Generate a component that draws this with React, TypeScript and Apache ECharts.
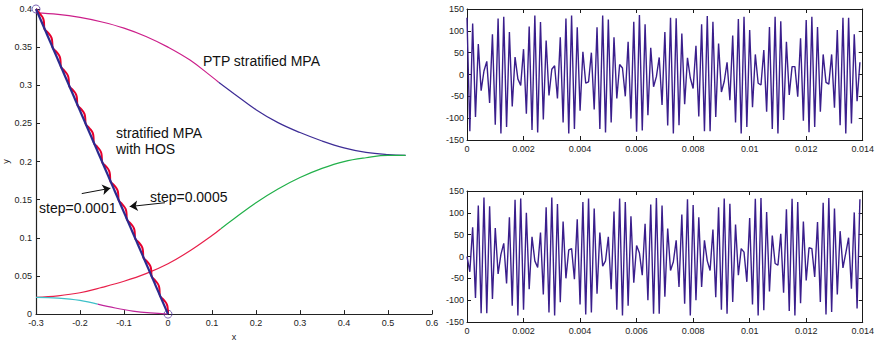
import React, { useEffect, useRef } from "react";
import * as echarts from "echarts";

// ---------- left panel data (x, y) ----------
const straightPath: number[][] = [[-0.3, 0.4], [0, 0]];
const wavyPath: number[][] = [
  [-0.3, 0.4], [-0.2915, 0.394], [-0.2836, 0.3875], [-0.2817, 0.381],
  [-0.2813, 0.375], [-0.2728, 0.369], [-0.2649, 0.3625], [-0.263, 0.356],
  [-0.2625, 0.35], [-0.254, 0.344], [-0.2461, 0.3375], [-0.2442, 0.331],
  [-0.2438, 0.325], [-0.2353, 0.319], [-0.2274, 0.3125], [-0.2255, 0.306],
  [-0.225, 0.3], [-0.2165, 0.294], [-0.2086, 0.2875], [-0.2067, 0.281],
  [-0.2063, 0.275], [-0.1978, 0.269], [-0.1899, 0.2625], [-0.188, 0.256],
  [-0.1875, 0.25], [-0.179, 0.244], [-0.1711, 0.2375], [-0.1692, 0.231],
  [-0.1688, 0.225], [-0.1603, 0.219], [-0.1524, 0.2125], [-0.1505, 0.206],
  [-0.15, 0.2], [-0.1415, 0.194], [-0.1336, 0.1875], [-0.1317, 0.181],
  [-0.1313, 0.175], [-0.1228, 0.169], [-0.1149, 0.1625], [-0.113, 0.156],
  [-0.1125, 0.15], [-0.104, 0.144], [-0.0961, 0.1375], [-0.0942, 0.131],
  [-0.0938, 0.125], [-0.0853, 0.119], [-0.0774, 0.1125], [-0.0755, 0.106],
  [-0.075, 0.1], [-0.0665, 0.094], [-0.0586, 0.0875], [-0.0567, 0.081],
  [-0.0563, 0.075], [-0.0478, 0.069], [-0.0399, 0.0625], [-0.038, 0.056],
  [-0.0375, 0.05], [-0.029, 0.044], [-0.0211, 0.0375], [-0.0192, 0.031],
  [-0.0188, 0.025], [-0.0103, 0.019], [-0.0024, 0.0125], [-0.0005, 0.006],
  [0, 0],
];
const ptpMagenta: number[][] = [
  [-0.3, 0.395], [-0.25, 0.393], [-0.2, 0.389], [-0.15, 0.383], [-0.1, 0.375],
  [-0.05, 0.364], [0, 0.35], [0.05, 0.333], [0.1, 0.311], [0.115, 0.304],
];
const ptpPurple: number[][] = [
  [0.115, 0.304], [0.15, 0.289], [0.2, 0.268], [0.25, 0.251], [0.3, 0.238],
  [0.35, 0.227], [0.4, 0.218], [0.45, 0.212], [0.5, 0.209], [0.54, 0.208],
];
const risingRed: number[][] = [
  [-0.3, 0.022], [-0.25, 0.024], [-0.2, 0.028], [-0.15, 0.035], [-0.1, 0.043],
  [-0.05, 0.053], [0, 0.066], [0.05, 0.083], [0.1, 0.103], [0.12, 0.112],
];
const risingGreen: number[][] = [
  [0.12, 0.112], [0.15, 0.125], [0.2, 0.146], [0.25, 0.164], [0.3, 0.179],
  [0.35, 0.191], [0.4, 0.2], [0.45, 0.205], [0.5, 0.208], [0.54, 0.208],
];
const lowCyan: number[][] = [
  [-0.3, 0.022], [-0.25, 0.021], [-0.2, 0.018], [-0.16, 0.013],
];
const lowMagenta: number[][] = [
  [-0.16, 0.013], [-0.12, 0.008], [-0.08, 0.004], [-0.04, 0.0015], [0, 0],
];
const endPoints: number[][] = [[-0.3, 0.4], [0, 0]];
const arrowSmallStep: number[][] = [[-0.196, 0.158], [-0.131, 0.165]];
const arrowLargeStep: number[][] = [[-0.007, 0.146], [-0.087, 0.141]];

// ---------- right panels: samples every 0.0001 s ----------
const sampleStep = 0.0001;
const topSignal: number[] = [
  130, -130, 117, -97, 70, -37, 8,
  30, -65, 92, -115, 128, -135, 132, -120, 97, -73, 40, -10,
  -25, 58, -90, 110, -127, 135, -133, 120, -103, 78, -48, 12,
  20, -55, 85, -110, 128, -135, 135, -125, 108, -83, 52, -20,
  -17, 50, -80, 108, -125, 135, -133, 126, -110, 85, -55, 23,
  15, -50, 75, -101, 121, -131, 136, -128, 115, -93, 61, -28,
  -5, 39, -70, 97, -117, 130, -135, 129, -116, 94, -68, 38, -8, -32,
  66, -96, 115, -130, 134, -130, 121, -97, 71, -40, -16,
  28, -59, 89, -110, 127, -135, 132, -120,
  102, -75, 46, -20, -24, 56, -85, 109, -125, 132, -135, 122, -104, 75, -47, 18, 18, -51, 83, -106,
  125, -132, 132, -120, 109, -85, 46, -18, -22, 46, -76, 102, -116, 130, -135, 130, -112, 92, -61, 28,
];
const bottomSignal: number[] = [
  0, -35, 67, -95, 117, -130, 135, -130, 115, -97, 65, -40,
  5, 30, -62, 90, -113, 130, -135, 133, -122, 100, -75, 45,
  -10, -25, 55, -87, 113, -128, 135, -135, 120, -105, 80, -50,
  15, 18, -52, 85, -110, 125, -133, 133, -128, 110, -85, 55,
  -22, -10, 45, -75, 103, -122, 133, -135, 125, -113, 92, -60,
  25, 8, -43, 75, -100, 119, -131, 134, -131, 117, -92, 64, -32,
  -12, 37, -70, 96, -108, 131, -135, 118, -100, 90, -70, 37, -10,
  -32, 62, -93, 113, -122, 133, -131, 121, -104, 73, -43, 18, 10, -58, 88,
  -110, 132, -135, 134, -123, 102, -80, 48, -16, -20, 52, -83, 108, -125, 132, -135, 125, -107, 80,
  -55, 20, 18, -47, 79, -104, 123, -133, 134, -127, 110, -87, 58, -26, 8, 43, -74, 101, -119, 131,
];

const FONT = "'Liberation Sans', Arial, Helvetica, sans-serif";

export default function App() {
  const ref = useRef<HTMLDivElement>(null);

  useEffect(() => {
    if (!ref.current) return;
    const chart = echarts.init(ref.current, undefined, { renderer: "svg" });

    const toPairs = (vals: number[]) => vals.map((v, i) => [i * sampleStep, v]);
    const labelStyle = { fontSize: 9, color: "#222", fontFamily: FONT };
    const black = { color: "#1a1a1a", width: 1 };

    const rightX = (grid: number) => [
      {
        type: "value", gridIndex: grid, position: "bottom", min: 0, max: 0.014, interval: 0.002,
        axisLine: { show: true, onZero: false, lineStyle: black },
        axisTick: { show: true, inside: true, length: 4, lineStyle: black },
        axisLabel: { ...labelStyle, margin: 4 },
        splitLine: { show: false },
      },
      {
        type: "value", gridIndex: grid, position: "top", min: 0, max: 0.014, interval: 0.002,
        axisLine: { show: true, onZero: false, lineStyle: black },
        axisTick: { show: true, inside: true, length: 4, lineStyle: black },
        axisLabel: { show: false },
        splitLine: { show: false },
      },
    ];
    const rightY = (grid: number) => [
      {
        type: "value", gridIndex: grid, position: "left", min: -150, max: 150, interval: 50,
        axisLine: { show: true, onZero: false, lineStyle: black },
        axisTick: { show: true, inside: true, length: 4, lineStyle: black },
        axisLabel: { ...labelStyle, margin: 3 },
        splitLine: { show: false },
      },
      {
        type: "value", gridIndex: grid, position: "right", min: -150, max: 150, interval: 50,
        axisLine: { show: true, onZero: false, lineStyle: black },
        axisTick: { show: true, inside: true, length: 4, lineStyle: black },
        axisLabel: { show: false },
        splitLine: { show: false },
      },
    ];

    const curve = (data: number[][], color: string, width: number, smooth: boolean | number = 0.4) => ({
      type: "line", xAxisIndex: 0, yAxisIndex: 0, data, smooth, showSymbol: false, symbol: "none",
      lineStyle: { color, width }, silent: true,
    });

    const option: any = {
      animation: false,
      backgroundColor: "#ffffff",
      textStyle: { fontFamily: FONT },
      grid: [
        { left: 36, top: 9, width: 396, height: 312 },
        { left: 467, top: 9, width: 397, height: 131 },
        { left: 467, top: 191, width: 397, height: 131 },
      ],
      xAxis: [
        {
          type: "value", gridIndex: 0, min: -0.3, max: 0.6, interval: 0.1,
          name: "x", nameLocation: "middle", nameGap: 13,
          nameTextStyle: { fontSize: 9, color: "#222", fontFamily: FONT },
          axisLine: { show: true, onZero: false, lineStyle: { color: "#222", width: 1.2 } },
          axisTick: { show: true, inside: true, length: 4, lineStyle: { color: "#222" } },
          axisLabel: { ...labelStyle, margin: 4 },
          splitLine: { show: false },
        },
        ...rightX(1),
        ...rightX(2),
      ],
      yAxis: [
        {
          type: "value", gridIndex: 0, min: 0, max: 0.4, interval: 0.05,
          name: "y", nameLocation: "middle", nameGap: 25,
          nameTextStyle: { fontSize: 9, color: "#222", fontFamily: FONT },
          axisLine: { show: true, onZero: false, lineStyle: { color: "#222", width: 1.2 } },
          axisTick: { show: true, inside: true, length: 4, lineStyle: { color: "#222" } },
          axisLabel: { ...labelStyle, margin: 4 },
          splitLine: { show: false },
        },
        ...rightY(1),
        ...rightY(2),
      ],
      series: [
        curve(ptpMagenta, "#cc1f8a", 1.2),
        curve(ptpPurple, "#3e2d96", 1.2),
        curve(risingRed, "#e8204a", 1.2),
        curve(risingGreen, "#22b04a", 1.2),
        curve(lowCyan, "#3ec0c8", 1.2),
        curve(lowMagenta, "#c0269a", 1.2),
        curve(wavyPath, "#e6002d", 2, 0.5),
        curve(straightPath, "#2b2a8f", 2.2, false),
        {
          type: "scatter", xAxisIndex: 0, yAxisIndex: 0, data: endPoints, symbol: "circle", symbolSize: 8,
          itemStyle: { color: "rgba(0,0,0,0)", borderColor: "#5a3fa0", borderWidth: 1 }, silent: true,
        },
        {
          type: "line", xAxisIndex: 0, yAxisIndex: 0, data: [], silent: true,
          markLine: {
            silent: true,
            animation: false,
            symbol: ["none", "arrow"],
            symbolSize: 8,
            label: { show: false },
            lineStyle: { color: "#111", width: 1, type: "solid" },
            data: [
              [
                { coord: arrowSmallStep[0] },
                { coord: arrowSmallStep[1] },
              ],
              [
                { coord: arrowLargeStep[0] },
                { coord: arrowLargeStep[1] },
              ],
            ],
          },
        },
        {
          type: "line", xAxisIndex: 1, yAxisIndex: 1, data: toPairs(topSignal), showSymbol: false, symbol: "none",
          lineStyle: { color: "#3a1e8c", width: 1.4 }, silent: true,
        },
        {
          type: "line", xAxisIndex: 3, yAxisIndex: 3, data: toPairs(bottomSignal), showSymbol: false, symbol: "none",
          lineStyle: { color: "#3a1e8c", width: 1.4 }, silent: true,
        },
      ],
      graphic: [
        { type: "text", x: 203, y: 61, style: { text: "PTP stratified MPA", font: `14px ${FONT}`, fill: "#111", verticalAlign: "middle" } },
        { type: "text", x: 116, y: 133, style: { text: "stratified MPA", font: `14px ${FONT}`, fill: "#111", verticalAlign: "middle" } },
        { type: "text", x: 116, y: 149, style: { text: "with HOS", font: `14px ${FONT}`, fill: "#111", verticalAlign: "middle" } },
        { type: "text", x: 39, y: 208, style: { text: "step=0.0001", font: `14px ${FONT}`, fill: "#111", verticalAlign: "middle" } },
        { type: "text", x: 150, y: 197, style: { text: "step=0.0005", font: `14px ${FONT}`, fill: "#111", verticalAlign: "middle" } },
      ],
    };

    chart.setOption(option);
    return () => chart.dispose();
  }, []);

  return (
    <div
      ref={ref}
      style={{ position: "absolute", left: 0, top: 0, width: 877, height: 346 }}
    />
  );
}
